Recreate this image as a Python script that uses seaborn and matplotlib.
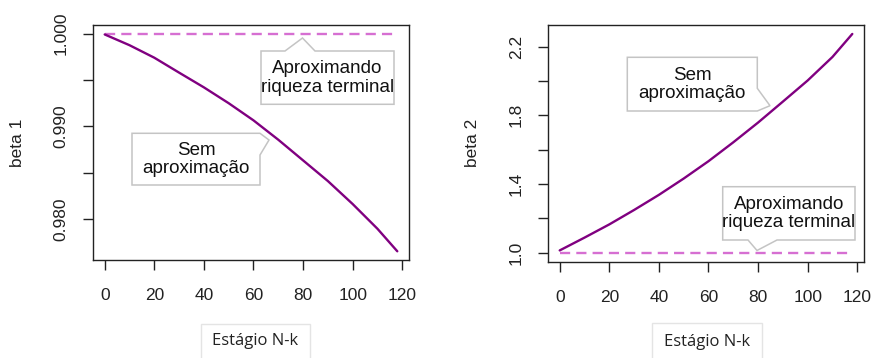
import matplotlib
matplotlib.use("Agg")
import matplotlib.pyplot as plt
from matplotlib.patches import Polygon
import seaborn as sns

# Stage index (N-k) and the two coefficient paths
stages = [0, 10, 20, 30, 40, 50, 60, 70, 80, 90, 100, 110, 118]
beta1_exact = [0.99992, 0.99876, 0.99741, 0.99580, 0.99421, 0.99250, 0.99065,
               0.98856, 0.98633, 0.98410, 0.98162, 0.97895, 0.97652]
beta2_exact = [1.0135, 1.088, 1.165, 1.249, 1.337, 1.432, 1.533,
               1.643, 1.758, 1.880, 2.003, 2.140, 2.274]

# Terminal-wealth approximation: constant coefficients
approx_stages = [0, 118]
beta1_approx = [1.0, 1.0]
beta2_approx = [1.0, 1.0]

x_ticks = [0, 20, 40, 60, 80, 100, 120]
beta1_ticks = [0.980, 0.985, 0.990, 0.995, 1.000]
beta1_labels = ["0.980", "", "0.990", "", "1.000"]
beta2_ticks = [1.0, 1.2, 1.4, 1.6, 1.8, 2.0, 2.2]
beta2_labels = ["1.0", "", "1.4", "", "1.8", "", "2.2"]

label_exact = "Sem\naproximação"
label_approx = "Aproximando\nriqueza terminal"
x_title = "Estágio N-k"

sns.set_style("ticks")
plt.rcParams["font.family"] = ["Liberation Sans", "DejaVu Sans"]

W, H = 874, 358
fig = plt.figure(figsize=(W / 100, H / 100), dpi=100)


def fx(x):
    return x / W


def fy(y):
    return 1 - y / H


def axes_box(x0, y0, x1, y1):
    return [fx(x0), fy(y1), fx(x1) - fx(x0), fy(y0) - fy(y1)]


ax1 = fig.add_axes(axes_box(93, 25, 409, 260))
ax2 = fig.add_axes(axes_box(548, 24.5, 864, 261.5))

SOLID = "#800080"
DASHED = "#d66fd2"
LW = 1.7

for ax, exact, approx, ticks, labels, ylim in [
    (ax1, beta1_exact, beta1_approx, beta1_ticks, beta1_labels, (0.97558, 1.00094)),
    (ax2, beta2_exact, beta2_approx, beta2_ticks, beta2_labels, (0.949, 2.329)),
]:
    sns.lineplot(x=approx_stages, y=approx, ax=ax, color=DASHED, linewidth=LW)
    ax.lines[-1].set_dashes([4.3, 2.6])
    sns.lineplot(x=stages, y=exact, ax=ax, color=SOLID, linewidth=LW)

    ax.set_xlim(-4.72, 122.72)
    ax.set_ylim(*ylim)
    ax.set_xticks(x_ticks)
    ax.set_xticklabels([str(t) for t in x_ticks])
    ax.set_yticks(ticks)
    ax.set_yticklabels(labels)
    ax.set_xlabel("")
    ax.set_ylabel("")
    for s in ax.spines.values():
        s.set_visible(True)
        s.set_color("#222222")
        s.set_linewidth(1.0)
    ax.tick_params(axis="both", direction="out", length=7.5, width=1.0,
                   color="#222222", labelsize=12.5, labelcolor="#222222")
    ax.tick_params(axis="x", pad=13)
    ax.tick_params(axis="y", pad=10)
    for t in ax.get_yticklabels():
        t.set_rotation(90)
        t.set_va("center")

# y-axis titles
for (cx, cy), txt in [((17, 142.5), "beta 1"), ((472, 142.5), "beta 2")]:
    fig.text(fx(cx), fy(cy), txt, rotation=90, ha="center", va="center",
             fontsize=12.5, color="#222222")

# x-axis titles in light frames
for (x0, y0, x1), (cx, cy) in [((200.7, 324, 310), (255, 341)),
                               ((652, 323, 762), (707, 342))]:
    frame = Polygon([(fx(x0), fy(H + 5)), (fx(x0), fy(y0)), (fx(x1), fy(y0)),
                     (fx(x1), fy(H + 5))], closed=False, fill=False,
                    edgecolor="#e4e4e4", linewidth=1.0, transform=fig.transFigure)
    fig.add_artist(frame)
    fig.text(fx(cx), fy(cy), x_title, ha="center", va="center", fontsize=12,
             family=["Open Sans", "DejaVu Sans"], color="#222222")

# speech-bubble callouts
callouts = [
    ([(261, 51), (285, 51), (302.5, 38), (315, 51), (394, 51), (394, 104.3),
      (261, 104.3)], (327.5, 78), label_approx),
    ([(132, 133.3), (260, 133.3), (269, 140), (260, 155), (260, 185),
      (132, 185)], (196, 159.5), label_exact),
    ([(627.3, 57.3), (757.3, 57.3), (757.3, 88.3), (770, 105.7), (757.3, 111),
      (627.3, 111)], (692.3, 84.5), label_exact),
    ([(722.7, 186.7), (855, 186.7), (855, 240), (777, 240), (757, 250.5),
      (748, 240), (722.7, 240)], (789, 213.5), label_approx),
]
for verts, (cx, cy), txt in callouts:
    poly = Polygon([(fx(x), fy(y)) for x, y in verts], closed=True,
                   facecolor="white", edgecolor="#c4c4c4", linewidth=1.1,
                   transform=fig.transFigure, zorder=5)
    fig.add_artist(poly)
    fig.text(fx(cx), fy(cy), txt, ha="center", va="center", fontsize=13.5,
             color="#111111", linespacing=1.1, zorder=6)

fig.savefig("out.png", dpi=100)
